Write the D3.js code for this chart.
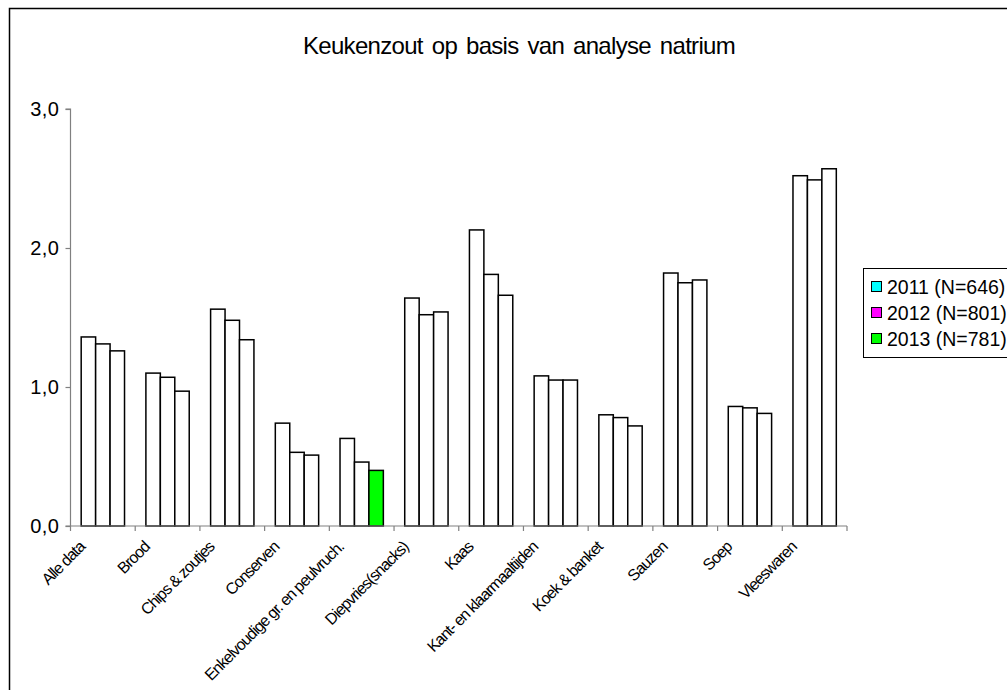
<!DOCTYPE html>
<html>
<head>
<meta charset="utf-8">
<script src="https://cdn.jsdelivr.net/npm/d3@7/dist/d3.min.js"></script>
<style>
  html, body { margin: 0; padding: 0; background: #fff; overflow: hidden; }
  svg { display: block; font-family: "Liberation Sans", Arial, sans-serif; }
</style>
</head>
<body>
<svg id="chart" width="1007" height="690"></svg>
<script>
// Salt content (g per 100 g) derived from sodium analysis, per product group and year
const categories = [
  "Alle data", "Brood", "Chips & zoutjes", "Conserven",
  "Enkelvoudige gr. en peulvruch.", "Diepvries(snacks)", "Kaas",
  "Kant- en klaarmaaltijden", "Koek & banket", "Sauzen", "Soep", "Vleeswaren"
];
const seriesNames = ["2011 (N=646)", "2012 (N=801)", "2013 (N=781)"];
const values2011 = [1.36, 1.10, 1.56, 0.74, 0.63, 1.64, 2.13, 1.08, 0.80, 1.82, 0.86, 2.52];
const values2012 = [1.31, 1.07, 1.48, 0.53, 0.46, 1.52, 1.81, 1.05, 0.78, 1.75, 0.85, 2.49];
const values2013 = [1.26, 0.97, 1.34, 0.51, 0.40, 1.54, 1.66, 1.05, 0.72, 1.77, 0.81, 2.57];
const yTicks = [0, 1, 2, 3];
const title = "Keukenzout op basis van analyse natrium";

const seriesValues = [values2011, values2012, values2013];
const seriesColors = ["#00ffff", "#ff00ff", "#00ff00"];
// only this one bar keeps its series fill; the rest are drawn white
const filledBar = { category: "Enkelvoudige gr. en peulvruch.", series: 2 };

const svg = d3.select("#chart");

// outer chart frame (runs past the window on the right and bottom)
svg.append("rect")
  .attr("x", 9.5).attr("y", 8.5)
  .attr("width", 1100).attr("height", 800)
  .attr("fill", "none").attr("stroke", "#000").attr("stroke-width", 1.5);

const plot = { left: 70.5, right: 847, top: 109, bottom: 526 };

const x = d3.scaleBand().domain(categories).range([plot.left, plot.right]).paddingInner(0).paddingOuter(0);
const xs = d3.scaleBand().domain(d3.range(seriesValues.length)).range([0, x.bandwidth()])
  .paddingInner(0).paddingOuter(0.74);
const y = d3.scaleLinear().domain([0, 3]).range([plot.bottom, plot.top]);

// title
svg.append("text")
  .attr("x", 519).attr("y", 54)
  .attr("text-anchor", "middle")
  .attr("font-size", 24).attr("letter-spacing", -0.7).attr("word-spacing", 3)
  .attr("fill", "#000")
  .text(title);

// bars
const rows = [];
categories.forEach((c, i) => {
  seriesValues.forEach((vals, s) => rows.push({ category: c, series: s, value: vals[i] }));
});

svg.append("g").selectAll("rect").data(rows).join("rect")
  .attr("x", d => x(d.category) + xs(d.series))
  .attr("y", d => y(d.value))
  .attr("width", xs.bandwidth())
  .attr("height", d => y(0) - y(d.value))
  .attr("fill", d => (d.category === filledBar.category && d.series === filledBar.series) ? seriesColors[d.series] : "#fff")
  .attr("stroke", "#000").attr("stroke-width", 1.5);

// y axis
const yAxis = svg.append("g")
  .attr("transform", `translate(${plot.left},0)`)
  .call(d3.axisLeft(y).tickValues(yTicks).tickSize(5).tickPadding(6)
    .tickFormat(d => d3.format(".1f")(d).replace(".", ",")));
yAxis.select(".domain").attr("stroke", "#808080").attr("stroke-width", 1.2).attr("d", `M-5,${y(3)}H0V${y(0)}`);
yAxis.selectAll(".tick line").attr("stroke", "#808080").attr("stroke-width", 1.2);
yAxis.selectAll(".tick text")
  .attr("font-family", "'Liberation Sans', Arial, sans-serif")
  .attr("font-size", 20).attr("letter-spacing", 0.5).attr("fill", "#000");

// x axis: line with ticks at the category boundaries
const xAxis = svg.append("g");
xAxis.append("line")
  .attr("x1", plot.left - 5).attr("x2", plot.right)
  .attr("y1", y(0)).attr("y2", y(0))
  .attr("stroke", "#808080").attr("stroke-width", 1.2);
xAxis.selectAll("line.tick").data(d3.range(categories.length + 1)).join("line")
  .attr("class", "tick")
  .attr("x1", i => plot.left + i * x.step()).attr("x2", i => plot.left + i * x.step())
  .attr("y1", y(0)).attr("y2", y(0) + 5)
  .attr("stroke", "#808080").attr("stroke-width", 1.2);

xAxis.selectAll("text").data(categories).join("text")
  .attr("transform", d => `translate(${x(d) + x.bandwidth() / 2 - 17},${y(0) + 22}) rotate(-45)`)
  .attr("text-anchor", "end")
  .attr("font-size", 16).attr("letter-spacing", -1)
  .attr("fill", "#000")
  .text(d => d);

// legend
const legend = svg.append("g");
legend.append("rect")
  .attr("x", 863.5).attr("y", 268.5).attr("width", 200).attr("height", 89)
  .attr("fill", "#fff").attr("stroke", "#000").attr("stroke-width", 1);
const item = legend.selectAll("g.item").data(seriesNames).join("g")
  .attr("class", "item")
  .attr("transform", (d, i) => `translate(871,${287 + i * 26})`);
item.append("rect")
  .attr("x", 0.5).attr("y", -5.5).attr("width", 10).attr("height", 10)
  .attr("fill", (d, i) => seriesColors[i]).attr("stroke", "#000").attr("stroke-width", 1);
item.append("text")
  .attr("x", 16).attr("y", 7)
  .attr("font-size", 19.5).attr("letter-spacing", 0)
  .attr("fill", "#000")
  .text(d => d);
</script>
</body>
</html>
